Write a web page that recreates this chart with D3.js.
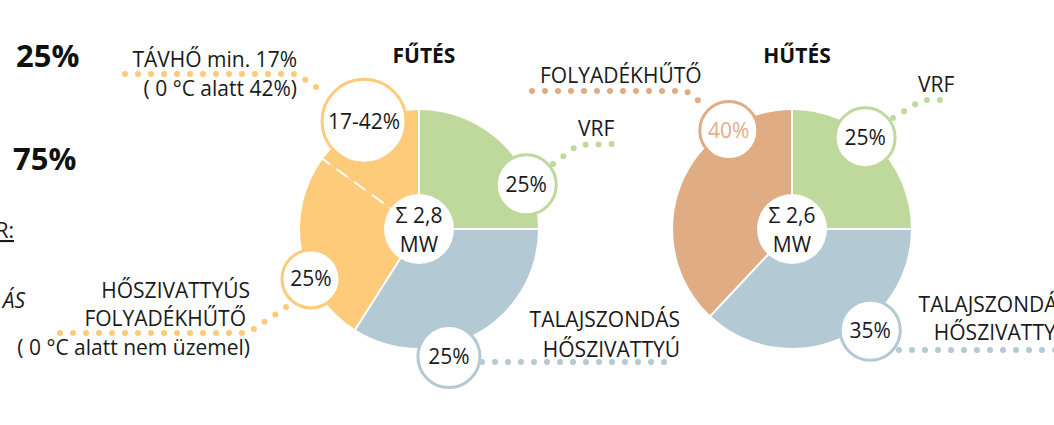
<!DOCTYPE html>
<meta charset="utf-8">
<style>
    body { margin: 0; background: #fff; }
    svg { display: block; font-family: "Open Sans", sans-serif; }
    .lbl { font-size: 21px; fill: #1a1a1a; }
    .big { font-size: 31px; font-weight: 700; fill: #111; }
    .title { font-size: 21px; font-weight: 700; fill: #111; }
</style>
<body>
<div id="chart"></div>
<script src="https://d3js.org/d3.v7.min.js"></script>
<script>
// slice values (percent)
var heatNames = ["VRF", "Talajszondás hőszivattyú", "Hőszivattyús folyadékhűtő", "Távhő"];
var heatValues = [25, 34, 26, 15];
var heatLabels = ["25%", "25%", "25%", "17-42%"];
var coolNames = ["VRF", "Talajszondás hőszivattyú", "Folyadékhűtő"];
var coolValues = [25, 37, 38];
var coolLabels = ["25%", "35%", "40%"];
var totals = ["Σ 2,8", "Σ 2,6"];

var colors = {
    "VRF": "#bed99b",
    "Talajszondás hőszivattyú": "#b3c9d4",
    "Hőszivattyús folyadékhűtő": "#fecb7a",
    "Távhő": "#fecb7a",
    "Folyadékhűtő": "#dfac84"
};

var width = 1054, height = 425, radius = 119, hole = 35;

var svg = d3.select("#chart").append("svg")
    .attr("width", width)
    .attr("height", height);

var pie = d3.pie().sort(null).startAngle(0).endAngle(2 * Math.PI);
var arc = d3.arc().innerRadius(0).outerRadius(radius);

// bubble placement: angle (deg, clockwise from top), distance, radius
var heatBubbles = [[67.6, 116, 30], [166.8, 131, 31], [245.2, 119, 29], [333, 121, 42]];
var coolBubbles = [[38.7, 117, 30], [142.3, 128, 30], [327.3, 117, 29]];

function drawPie(cx, cy, names, values, labels, bubbles, total, title) {
    var g = svg.append("g").attr("transform", "translate(" + cx + "," + cy + ")");
    var arcs = pie(values);

    g.selectAll("path.slice")
        .data(arcs)
        .enter().append("path")
        .attr("class", "slice")
        .attr("d", arc)
        .style("fill", function(d, i) { return colors[names[i]]; });

    // separators: solid between colours, dashed inside the same colour
    arcs.forEach(function(d, i) {
        var prev = names[(i - 1 + names.length) % names.length];
        var same = colors[prev] === colors[names[i]];
        var a = d.startAngle;
        g.append("line")
            .attr("x1", 0).attr("y1", 0)
            .attr("x2", Math.sin(a) * radius)
            .attr("y2", -Math.cos(a) * radius)
            .style("stroke", "#fff")
            .style("stroke-width", 2)
            .style("stroke-dasharray", same ? "14,8" : null);
    });

    g.append("circle").attr("r", hole).style("fill", "#fff");
    g.append("text").attr("class", "lbl").attr("text-anchor", "middle")
        .attr("y", -6).text(total);
    g.append("text").attr("class", "lbl").attr("text-anchor", "middle")
        .attr("y", 23).text("MW");

    svg.append("text").attr("class", "title").attr("text-anchor", "middle")
        .attr("x", cx + 5).attr("y", 63).text(title);

    var b = g.selectAll("g.bubble")
        .data(arcs)
        .enter().append("g")
        .attr("class", "bubble")
        .attr("transform", function(d, i) {
            var p = bubbles[i], a = p[0] * Math.PI / 180;
            return "translate(" + (Math.sin(a) * p[1]) + "," + (-Math.cos(a) * p[1]) + ")";
        });
    b.append("circle")
        .attr("r", function(d, i) { return bubbles[i][2]; })
        .style("fill", "#fff")
        .style("stroke", function(d, i) { return colors[names[i]]; })
        .style("stroke-width", 3);
    b.append("text")
        .attr("class", "lbl")
        .attr("text-anchor", "middle")
        .attr("dy", "0.36em")
        .style("fill", function(d, i) { return names[i] === "Folyadékhűtő" ? "#e3ae86" : "#1a1a1a"; })
        .text(function(d, i) { return labels[i]; });
}

// dotted leaders
var leaders = [
    ["#fecb7a", [[125, 74], [297, 74], [323, 92]]],
    ["#fecb7a", [[60, 333], [248, 333], [292, 303]]],
    ["#bed99b", [[553, 164], [578, 145], [612, 144]]],
    ["#b3c9d4", [[482, 362], [668, 362]]],
    ["#dfac84", [[532, 91], [686, 91], [708, 108]]],
    ["#bed99b", [[893, 118], [922, 100], [952, 100]]],
    ["#b3c9d4", [[899, 350], [1066, 350]]]
];
var line = d3.line();
svg.selectAll("path.leader")
    .data(leaders)
    .enter().append("path")
    .attr("class", "leader")
    .attr("d", function(d) { return line(d[1]); })
    .style("fill", "none")
    .style("stroke", function(d) { return d[0]; })
    .style("stroke-width", 6)
    .style("stroke-linecap", "round")
    .style("stroke-dasharray", "0,13");

drawPie(419, 229, heatNames, heatValues, heatLabels, heatBubbles, totals[0], "FŰTÉS");
drawPie(792, 229, coolNames, coolValues, coolLabels, coolBubbles, totals[1], "HŰTÉS");

// text labels
var texts = [
    [297, 67, "end", "TÁVHŐ min. 17%"],
    [297, 96, "end", "( 0 °C alatt 42%)"],
    [250, 298, "end", "HŐSZIVATTYÚS"],
    [246, 326, "end", "FOLYADÉKHŰTŐ"],
    [250, 355, "end", "( 0 °C alatt nem üzemel)"],
    [578, 136, "start", "VRF"],
    [680, 327, "end", "TALAJSZONDÁS"],
    [680, 357, "end", "HŐSZIVATTYÚ"],
    [540, 83, "start", "FOLYADÉKHŰTŐ"],
    [918, 92, "start", "VRF"],
    [1069, 312, "end", "TALAJSZONDÁS"],
    [1071, 340, "end", "HŐSZIVATTYÚ"]
];
svg.selectAll("text.note")
    .data(texts)
    .enter().append("text")
    .attr("class", "lbl note")
    .attr("x", function(d) { return d[0]; })
    .attr("y", function(d) { return d[1]; })
    .attr("text-anchor", function(d) { return d[2]; })
    .text(function(d) { return d[3]; });

svg.append("text").attr("class", "big").attr("x", 16).attr("y", 67).text("25%");
svg.append("text").attr("class", "big").attr("x", 13).attr("y", 170).text("75%");
svg.append("text").attr("class", "lbl").attr("x", 14).attr("y", 238)
    .attr("text-anchor", "end").style("text-decoration", "underline").text("R:");
svg.append("text").attr("class", "lbl").attr("x", 25).attr("y", 308)
    .attr("text-anchor", "end").style("font-style", "italic").text("ÁS");
</script>
</body>
</html>
